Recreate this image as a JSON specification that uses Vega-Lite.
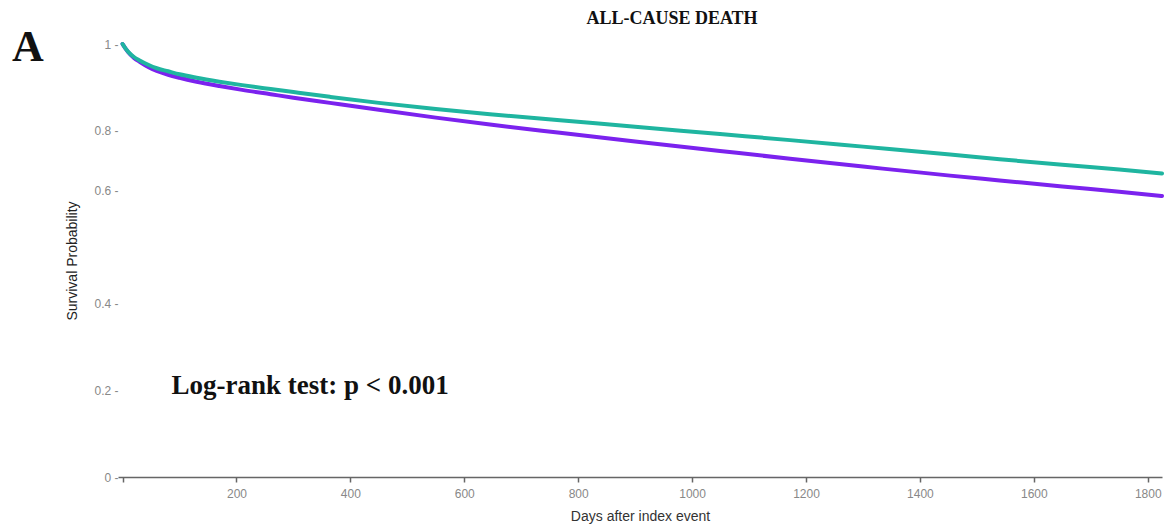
{
  "$schema": "https://vega.github.io/schema/vega-lite/v6.json",
  "autosize": {"type": "none"},
  "padding": {"left": 118, "top": 44, "right": 8, "bottom": 53},
  "width": 1044,
  "height": 433,
  "background": "white",
  "config": {"view": {"stroke": null}},
  "title": {
    "text": "ALL-CAUSE DEATH",
    "font": "Liberation Serif",
    "fontSize": 18,
    "fontWeight": "bold",
    "color": "#111",
    "anchor": "middle",
    "dx": 32,
    "offset": -2
  },
  "datasets": {
    "curves": [
      {"day": 0, "surv": 1.0, "group": "A"}, {"day": 0, "surv": 1.0, "group": "B"},
      {"day": 5, "surv": 0.99, "group": "A"}, {"day": 5, "surv": 0.99, "group": "B"},
      {"day": 10, "surv": 0.981, "group": "A"}, {"day": 10, "surv": 0.982, "group": "B"},
      {"day": 20, "surv": 0.968, "group": "A"}, {"day": 20, "surv": 0.970, "group": "B"},
      {"day": 30, "surv": 0.959, "group": "A"}, {"day": 30, "surv": 0.962, "group": "B"},
      {"day": 45, "surv": 0.947, "group": "A"}, {"day": 45, "surv": 0.952, "group": "B"},
      {"day": 60, "surv": 0.938, "group": "A"}, {"day": 60, "surv": 0.944, "group": "B"},
      {"day": 80, "surv": 0.929, "group": "A"}, {"day": 80, "surv": 0.937, "group": "B"},
      {"day": 100, "surv": 0.922, "group": "A"}, {"day": 100, "surv": 0.930, "group": "B"},
      {"day": 130, "surv": 0.913, "group": "A"}, {"day": 130, "surv": 0.922, "group": "B"},
      {"day": 170, "surv": 0.903, "group": "A"}, {"day": 170, "surv": 0.913, "group": "B"},
      {"day": 210, "surv": 0.894, "group": "A"}, {"day": 210, "surv": 0.905, "group": "B"},
      {"day": 260, "surv": 0.884, "group": "A"}, {"day": 260, "surv": 0.896, "group": "B"},
      {"day": 300, "surv": 0.876, "group": "A"}, {"day": 300, "surv": 0.889, "group": "B"},
      {"day": 364, "surv": 0.864, "group": "A"}, {"day": 364, "surv": 0.878, "group": "B"},
      {"day": 450, "surv": 0.848, "group": "A"}, {"day": 450, "surv": 0.864, "group": "B"},
      {"day": 550, "surv": 0.830, "group": "A"}, {"day": 550, "surv": 0.850, "group": "B"},
      {"day": 645, "surv": 0.814, "group": "A"}, {"day": 645, "surv": 0.838, "group": "B"},
      {"day": 768, "surv": 0.795, "group": "A"}, {"day": 768, "surv": 0.824, "group": "B"},
      {"day": 900, "surv": 0.775, "group": "A"}, {"day": 900, "surv": 0.809, "group": "B"},
      {"day": 1049, "surv": 0.753, "group": "A"}, {"day": 1049, "surv": 0.792, "group": "B"},
      {"day": 1172, "surv": 0.735, "group": "A"}, {"day": 1172, "surv": 0.778, "group": "B"},
      {"day": 1300, "surv": 0.717, "group": "A"}, {"day": 1300, "surv": 0.763, "group": "B"},
      {"day": 1453, "surv": 0.696, "group": "A"}, {"day": 1453, "surv": 0.745, "group": "B"},
      {"day": 1540, "surv": 0.685, "group": "A"}, {"day": 1540, "surv": 0.734, "group": "B"},
      {"day": 1650, "surv": 0.671, "group": "A"}, {"day": 1650, "surv": 0.721, "group": "B"},
      {"day": 1750, "surv": 0.659, "group": "A"}, {"day": 1750, "surv": 0.710, "group": "B"},
      {"day": 1825, "surv": 0.649, "group": "A"}, {"day": 1825, "surv": 0.701, "group": "B"}
    ],
    "notes": [
      {"day": 86, "surv": 0.21, "label": "Log-rank test: p < 0.001", "kind": "p"},
      {"day": -166, "surv": 0.99, "label": "A", "kind": "panel"}
    ]
  },
  "layer": [
    {
      "data": {"name": "curves"},
      "mark": {"type": "line", "strokeWidth": 4, "strokeCap": "round", "interpolate": "monotone"},
      "encoding": {
        "x": {
          "field": "day", "type": "quantitative",
          "scale": {"domain": [-8, 1825], "nice": false, "zero": false},
          "axis": {
            "values": [0, 200, 400, 600, 800, 1000, 1200, 1400, 1600, 1800],
            "labelExpr": "datum.value == 0 ? '' : datum.label",
            "format": "d",
            "grid": false,
            "domainColor": "#666", "domainWidth": 1.5,
            "tickColor": "#666", "tickSize": 5, "tickWidth": 1.5,
            "labelColor": "#888", "labelFont": "Liberation Sans", "labelFontSize": 12,
            "labelPadding": 6,
            "title": "Days after index event",
            "titleFont": "Liberation Sans", "titleFontSize": 14, "titleFontWeight": "normal",
            "titleColor": "#333", "titlePadding": 10
          }
        },
        "y": {
          "field": "surv", "type": "quantitative",
          "scale": {"domain": [0, 1], "nice": false},
          "axis": {
            "values": [0, 0.2, 0.4, 0.6, 0.8, 1],
            "format": "~g",
            "labelExpr": "datum.label + ' -'",
            "domain": false, "ticks": false, "grid": false,
            "labelColor": "#888", "labelFont": "Liberation Sans", "labelFontSize": 12,
            "labelPadding": 0,
            "labelOffset": {"expr": "datum.value == 0.6 ? -27 : 0"},
            "title": "Survival Probability",
            "titleFont": "Liberation Sans", "titleFontSize": 14, "titleFontWeight": "normal",
            "titleColor": "#222", "titlePadding": 14
          }
        },
        "color": {
          "field": "group", "type": "nominal",
          "scale": {"domain": ["A", "B"], "range": ["#7b22ee", "#1fb5a0"]},
          "legend": null
        }
      }
    },
    {
      "data": {"name": "notes"},
      "transform": [{"filter": "datum.kind == 'p'"}],
      "mark": {"type": "text", "align": "left", "baseline": "middle", "font": "Liberation Serif", "fontSize": 27, "fontWeight": "bold", "color": "#111", "clip": false},
      "encoding": {
        "x": {"field": "day", "type": "quantitative"},
        "y": {"field": "surv", "type": "quantitative"},
        "text": {"field": "label"}
      }
    },
    {
      "data": {"name": "notes"},
      "transform": [{"filter": "datum.kind == 'panel'"}],
      "mark": {"type": "text", "align": "center", "baseline": "middle", "font": "Liberation Serif", "fontSize": 44, "fontWeight": "bold", "color": "#111", "clip": false},
      "encoding": {
        "x": {"field": "day", "type": "quantitative"},
        "y": {"field": "surv", "type": "quantitative"},
        "text": {"field": "label"}
      }
    }
  ]
}
